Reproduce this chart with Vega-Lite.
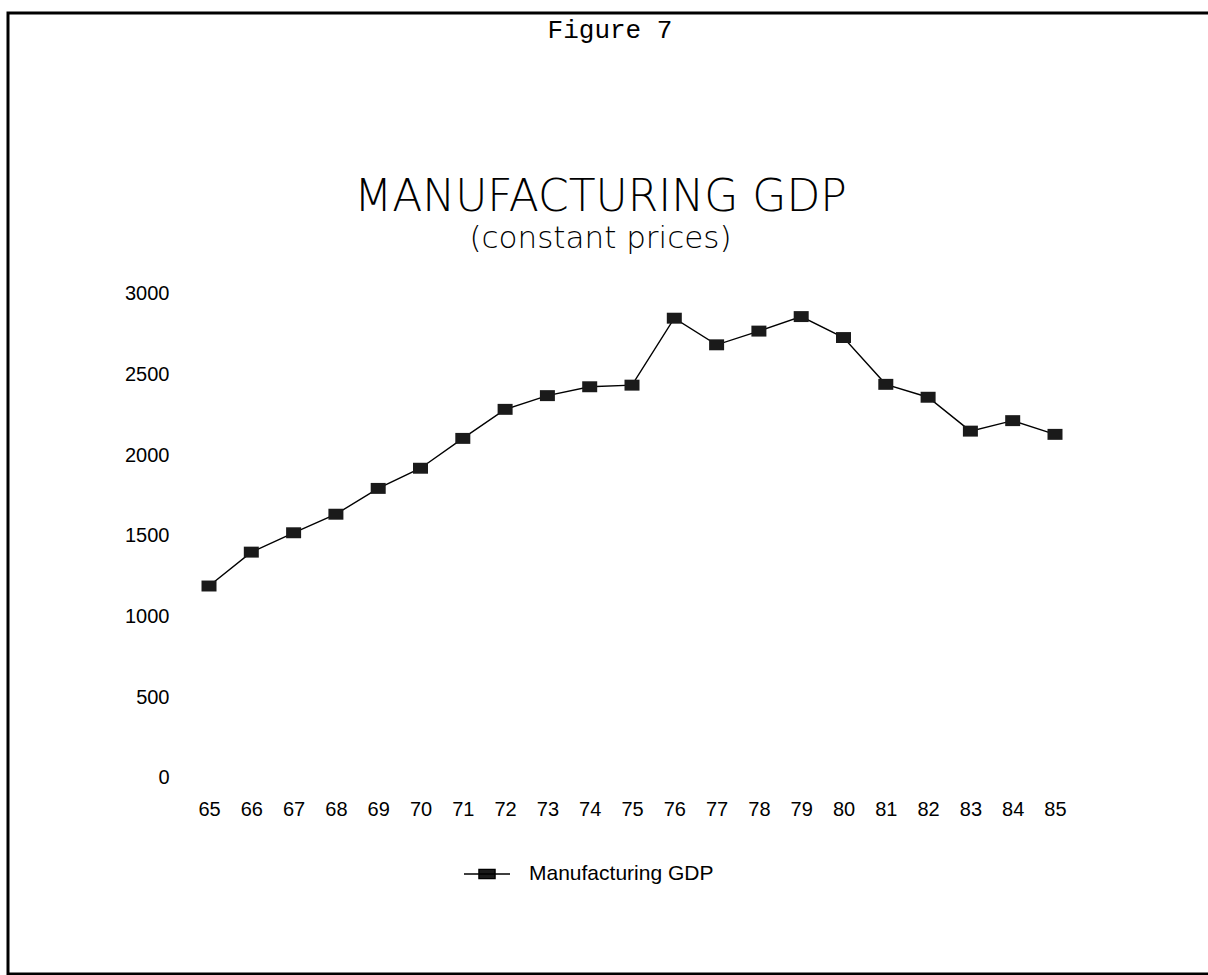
{
  "$schema": "https://vega.github.io/schema/vega-lite/v6.json",
  "width": 1203,
  "height": 961,
  "autosize": "none",
  "padding": {"left": 8, "top": 13, "right": -3, "bottom": 1},
  "background": "white",
  "config": {
    "view": {"stroke": "#000", "strokeWidth": 3},
    "font": "Liberation Sans"
  },
  "title": {
    "text": "MANUFACTURING GDP",
    "subtitle": "(constant prices)",
    "anchor": "middle",
    "frame": "group",
    "orient": "top",
    "offset": -241,
    "dx": -9,
    "font": "DejaVu Sans",
    "fontSize": 44,
    "fontWeight": 200,
    "color": "#000",
    "subtitleFont": "DejaVu Sans",
    "subtitleFontSize": 31,
    "subtitleFontWeight": 200,
    "subtitleColor": "#000",
    "subtitlePadding": 4
  },
  "data": {
    "values": [
      {"year": 65, "gdp": 1190, "series": "Manufacturing GDP"},
      {"year": 66, "gdp": 1400, "series": "Manufacturing GDP"},
      {"year": 67, "gdp": 1520, "series": "Manufacturing GDP"},
      {"year": 68, "gdp": 1635, "series": "Manufacturing GDP"},
      {"year": 69, "gdp": 1795, "series": "Manufacturing GDP"},
      {"year": 70, "gdp": 1920, "series": "Manufacturing GDP"},
      {"year": 71, "gdp": 2105, "series": "Manufacturing GDP"},
      {"year": 72, "gdp": 2285, "series": "Manufacturing GDP"},
      {"year": 73, "gdp": 2370, "series": "Manufacturing GDP"},
      {"year": 74, "gdp": 2425, "series": "Manufacturing GDP"},
      {"year": 75, "gdp": 2435, "series": "Manufacturing GDP"},
      {"year": 76, "gdp": 2850, "series": "Manufacturing GDP"},
      {"year": 77, "gdp": 2685, "series": "Manufacturing GDP"},
      {"year": 78, "gdp": 2770, "series": "Manufacturing GDP"},
      {"year": 79, "gdp": 2860, "series": "Manufacturing GDP"},
      {"year": 80, "gdp": 2730, "series": "Manufacturing GDP"},
      {"year": 81, "gdp": 2440, "series": "Manufacturing GDP"},
      {"year": 82, "gdp": 2360, "series": "Manufacturing GDP"},
      {"year": 83, "gdp": 2150, "series": "Manufacturing GDP"},
      {"year": 84, "gdp": 2215, "series": "Manufacturing GDP"},
      {"year": 85, "gdp": 2130, "series": "Manufacturing GDP"}
    ]
  },
  "layer": [
    {
      "mark": {"type": "line", "color": "#000", "strokeWidth": 1.4},
      "encoding": {
        "x": {
          "field": "year", "type": "quantitative",
          "scale": {"domain": [60.248, 88.688], "nice": false, "zero": false},
          "axis": {
            "orient": "bottom", "values": [65,66,67,68,69,70,71,72,73,74,75,76,77,78,79,80,81,82,83,84,85],
            "format": "d",
            "title": null, "domain": false, "ticks": false, "tickSize": 0, "grid": false,
            "labelPadding": 0, "offset": -175, "labelFont": "Liberation Sans",
            "labelFontSize": 20, "labelColor": "#000", "labelBaseline": "top", "labelFlush": false,
            "labelOverlap": false
          }
        },
        "y": {
          "field": "gdp", "type": "quantitative",
          "scale": {"domain": [-1214.9, 4741.7], "nice": false, "zero": false},
          "axis": {
            "orient": "left", "values": [0, 500, 1000, 1500, 2000, 2500, 3000],
            "format": "d",
            "title": null, "domain": false, "ticks": false, "tickSize": 0, "grid": false,
            "labelPadding": 0, "offset": -161, "labelFont": "Liberation Sans",
            "labelFontSize": 20, "labelColor": "#000", "labelAlign": "right", "labelBaseline": "middle",
            "labelFlush": false, "labelOverlap": false
          }
        }
      }
    },
    {
      "mark": {"type": "point", "filled": true, "opacity": 1, "shape": "M-1,-0.73H1V0.73H-1Z", "size": 225},
      "encoding": {
        "x": {"field": "year", "type": "quantitative"},
        "y": {"field": "gdp", "type": "quantitative"},
        "color": {
          "field": "series", "type": "nominal",
          "scale": {"range": ["#1a1a1a"]},
          "legend": {
            "title": null, "orient": "none", "legendX": 455, "legendY": 837, "padding": 0,
            "labelFont": "Liberation Sans", "labelFontSize": 21, "labelColor": "#000", "labelOffset": 18,
            "labelLimit": 500,
            "symbolType": "M-1,0H1M-0.35,-0.2H0.35V0.2H-0.35Z", "symbolSize": 2116,
            "symbolStrokeWidth": 1.4, "symbolStrokeColor": "#000", "symbolFillColor": "#1a1a1a",
            "encode": {"symbols": {"update": {
              "shape": {"value": "M-1,0H1M-0.35,-0.2H0.35V0.2H-0.35Z"},
              "size": {"value": 2116},
              "stroke": {"value": "#000"},
              "strokeWidth": {"value": 1.4},
              "fill": {"value": "#1a1a1a"},
              "opacity": {"value": 1}
            }}}
          }
        }
      }
    },
    {
      "data": {"values": [{"label": "Figure 7"}]},
      "mark": {"type": "text", "font": "Liberation Mono", "fontSize": 26, "color": "#000", "align": "center", "baseline": "middle"},
      "encoding": {
        "x": {"datum": 74.48, "type": "quantitative"},
        "y": {"datum": 4636, "type": "quantitative"},
        "text": {"field": "label"}
      }
    }
  ]
}
